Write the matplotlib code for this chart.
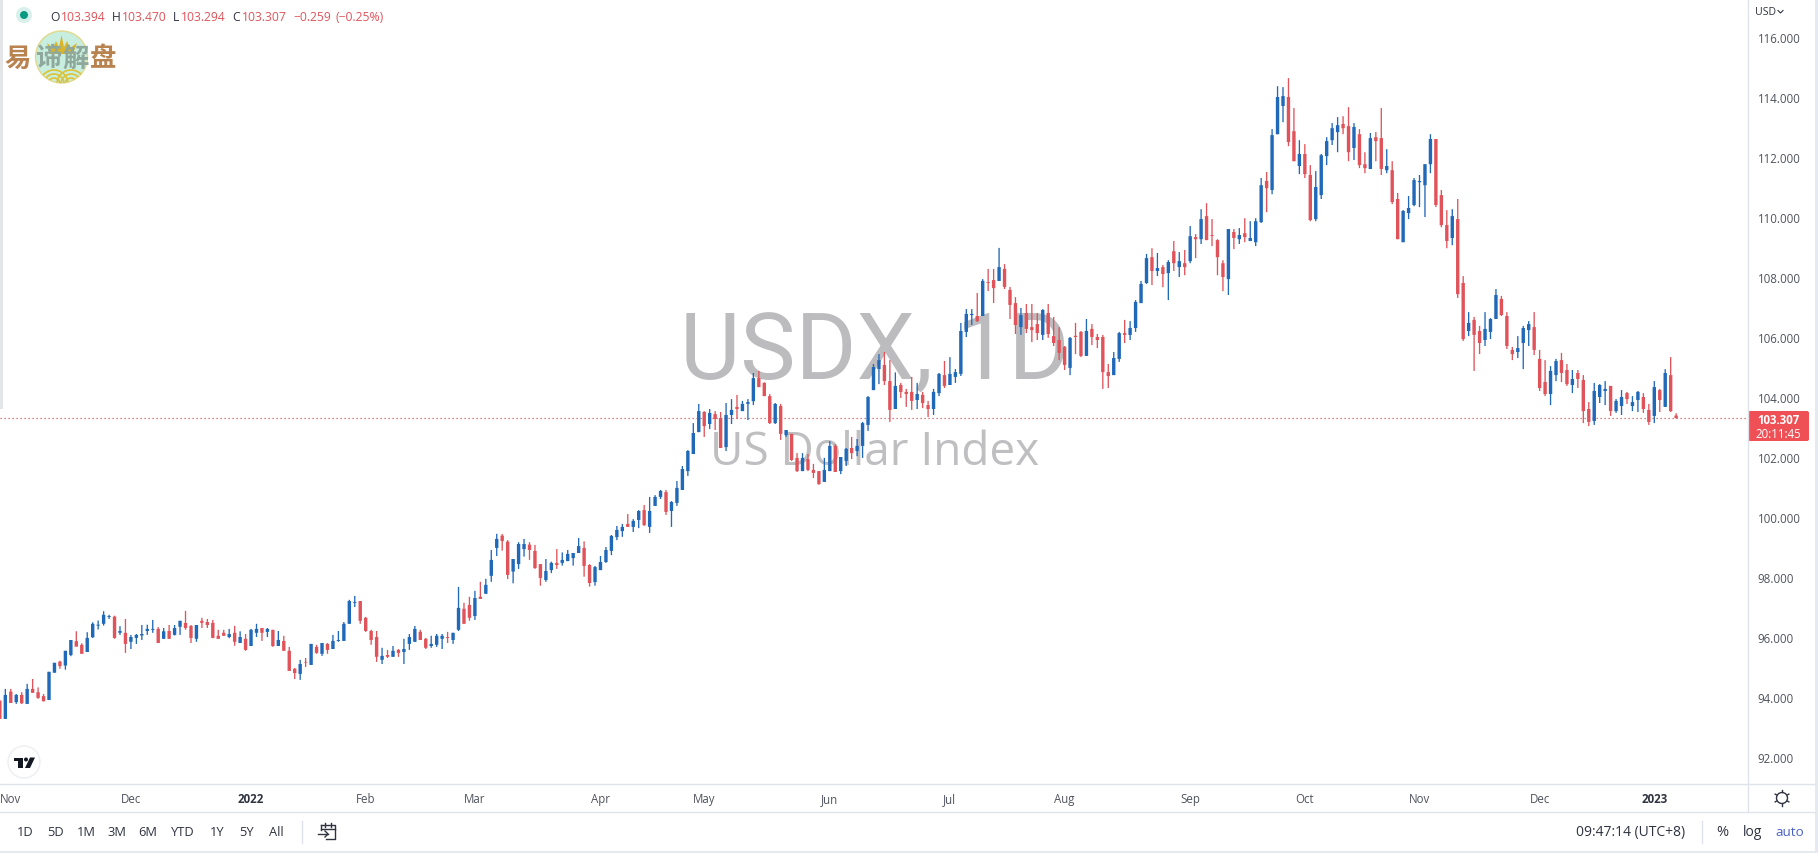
import matplotlib
matplotlib.use('Agg')
import matplotlib.pyplot as plt
from matplotlib.patches import Circle, Rectangle, Arc, Polygon, FancyBboxPatch

plt.rcParams['font.family'] = ['Open Sans', 'DejaVu Sans']

# daily candles, one value per trading day, Nov 2021 to Jan 2023
opens = [93.89,93.28,94.19,93.84,94.08,93.78,94.28,94.17,94.04,93.91,
94.82,95.19,95.06,95.41,95.87,95.75,95.51,96.00,96.39,96.45,
96.68,96.69,96.15,96.15,95.85,95.98,96.06,96.21,96.25,96.28,
95.95,96.21,96.08,96.35,96.48,96.38,95.95,96.55,96.51,96.48,
96.05,96.15,96.01,96.15,95.81,95.95,95.71,96.15,96.31,96.18,
96.25,95.71,95.88,95.55,94.95,94.78,95.18,95.08,95.68,95.45,
95.78,95.61,95.88,95.88,96.45,97.15,97.21,96.65,96.21,96.01,
95.25,95.41,95.35,95.58,95.51,95.78,95.85,96.18,95.95,95.71,
95.75,95.95,96.01,95.91,96.25,96.95,97.08,96.71,97.35,97.45,
98.05,98.98,99.39,99.19,98.19,98.44,98.94,99.09,98.88,98.44,
97.91,98.24,98.48,98.48,98.54,98.64,98.81,98.98,98.41,97.84,
98.24,98.51,98.88,99.34,99.54,99.78,99.68,99.91,100.24,99.68,
100.38,100.68,100.84,100.21,100.48,100.91,101.54,102.11,102.84,103.51,
103.11,103.44,103.31,102.34,103.41,103.68,103.54,103.78,103.87,104.64,
104.48,104.04,103.14,103.71,102.74,102.78,101.98,101.54,101.94,101.58,
101.54,101.18,101.54,102.38,101.54,101.88,102.31,102.21,102.38,103.08,
104.24,104.94,105.08,104.54,103.61,104.41,104.18,104.18,103.91,104.08,
103.74,103.61,104.14,104.74,104.41,104.68,104.78,106.18,106.74,106.71,
106.71,107.84,107.91,107.88,108.28,107.58,107.14,106.34,106.81,106.34,
106.44,106.08,106.81,106.04,105.91,105.68,104.98,106.05,106.18,105.38,
106.28,106.01,106.01,104.84,104.74,105.28,106.14,106.08,106.31,107.14,
107.81,108.67,108.21,108.34,108.14,108.87,108.34,108.47,108.54,109.34,
109.27,110.04,109.41,109.24,108.47,107.94,109.51,109.27,109.47,109.21,
109.17,109.84,111.21,110.91,112.77,113.71,114.01,112.87,111.71,112.11,
111.41,109.94,110.74,112.04,112.57,112.84,113.11,113.04,112.31,112.77,
111.77,111.61,112.67,112.64,111.57,111.57,110.61,109.17,110.14,110.41,
111.17,111.07,111.77,112.61,110.74,109.74,109.31,109.94,107.81,106.21,
106.58,106.21,105.91,106.18,106.61,107.28,106.71,105.58,105.51,105.81,
106.24,106.34,105.28,104.51,104.11,104.74,105.24,104.91,104.41,104.81,
104.58,103.61,103.21,104.01,104.21,104.38,103.54,103.71,104.14,103.71,
103.91,104.01,103.58,103.38,104.24,103.68,104.74,103.394]

highs = [93.89,94.28,94.28,94.11,94.17,94.45,94.61,94.33,94.11,94.85,
95.15,95.22,95.55,95.91,96.20,95.80,96.17,96.50,96.56,96.87,
96.75,96.72,96.37,96.61,96.08,96.11,96.41,96.42,96.58,96.34,
96.31,96.41,96.41,96.55,96.88,96.41,96.41,96.65,96.61,96.58,
96.25,96.25,96.28,96.38,96.20,96.11,96.28,96.45,96.31,96.31,
96.25,96.21,96.05,95.68,94.98,95.25,95.31,95.78,95.75,95.81,
95.81,96.08,96.21,96.51,97.25,97.38,97.21,96.68,96.25,96.21,
95.65,95.58,95.71,95.61,95.95,96.11,96.38,96.25,95.98,96.05,
96.11,96.11,96.18,96.15,97.68,97.15,97.35,97.55,97.85,97.95,
98.91,99.45,99.44,99.24,98.61,99.17,99.28,99.17,99.08,98.44,
98.61,98.52,98.94,98.83,98.91,98.81,99.31,99.20,98.44,98.38,
98.71,99.01,99.41,99.71,99.78,100.11,99.94,100.24,100.41,100.68,
100.74,100.91,100.91,100.54,101.21,101.71,102.24,103.14,103.78,103.54,
103.61,103.54,103.51,103.81,103.94,104.08,103.88,103.94,104.81,104.88,
104.50,104.11,103.81,103.78,102.91,102.78,102.14,102.14,102.11,101.78,
101.54,101.98,102.54,102.44,102.01,102.31,102.68,102.61,103.18,104.04,
105.11,105.44,105.51,105.24,104.83,104.48,104.28,104.68,104.48,104.18,
103.88,104.28,104.81,105.21,105.34,104.94,106.48,106.94,106.94,107.48,
107.94,108.28,108.28,108.98,108.44,107.68,107.34,106.98,107.11,107.11,
106.81,106.94,107.11,106.68,106.34,105.71,106.01,106.48,106.21,106.61,
106.44,106.11,106.08,105.11,105.51,106.18,106.58,106.54,107.24,107.88,
108.78,108.97,108.81,108.41,108.57,109.21,108.84,108.91,109.71,109.44,
110.27,110.47,109.94,109.27,108.57,109.61,109.61,109.64,109.97,109.87,
109.97,111.31,111.51,112.94,114.37,114.34,114.64,113.64,112.57,112.44,
111.74,111.54,112.11,112.67,113.14,113.34,113.37,113.67,113.14,112.94,
112.17,112.81,112.84,113.64,112.27,111.87,110.81,110.24,110.71,111.31,
111.41,111.77,112.77,112.61,110.91,110.24,110.27,110.61,108.04,106.84,
106.68,106.38,106.84,106.64,107.61,107.38,106.84,105.68,106.04,106.38,
106.54,106.84,105.58,105.24,105.04,105.28,105.48,105.11,104.91,104.91,
104.74,103.84,104.48,104.44,104.54,104.38,103.94,104.24,104.18,104.04,
104.21,104.14,103.78,104.54,104.28,104.94,105.34,103.47]

lows = [93.28,93.28,93.81,93.78,93.78,93.78,94.15,93.95,93.86,93.91,
94.82,94.95,94.92,95.37,95.69,95.45,95.51,95.98,96.26,96.39,
96.61,95.95,96.08,95.48,95.61,95.78,95.91,96.08,96.15,95.81,
95.95,95.95,96.06,96.08,96.25,95.81,95.85,96.31,96.31,95.97,
95.95,96.05,95.97,95.72,95.81,95.55,95.71,96.01,95.88,96.01,
95.68,95.71,95.55,94.88,94.61,94.58,95.01,95.08,95.45,95.38,
95.45,95.61,95.85,95.88,96.45,97.01,96.45,96.18,95.75,95.18,
95.11,95.31,95.35,95.35,95.11,95.58,95.85,95.91,95.61,95.65,
95.68,95.61,95.81,95.78,96.21,96.45,96.55,96.58,97.28,97.45,
97.85,98.71,98.89,97.94,97.80,98.28,98.69,98.58,98.28,97.72,
97.85,98.14,98.28,98.39,98.54,98.39,98.81,98.02,97.69,97.72,
98.24,98.48,98.74,99.24,99.35,99.68,99.51,99.64,99.71,99.48,
100.38,100.61,100.08,99.68,100.38,100.91,101.38,102.11,102.84,102.68,
102.94,102.91,102.31,102.21,103.11,103.28,103.54,103.24,103.74,104.34,
104.04,103.11,103.11,102.58,102.68,101.88,101.51,101.54,101.54,101.31,
101.08,101.18,101.54,101.51,101.44,101.71,101.94,102.04,101.98,102.88,
104.24,104.44,104.41,103.18,103.61,103.98,103.68,103.58,103.61,103.64,
103.34,103.41,104.04,104.31,104.41,104.48,104.71,106.01,106.41,106.51,
106.71,107.54,107.14,107.88,107.61,106.61,106.11,106.08,106.14,105.84,
105.91,105.91,105.98,105.71,105.24,104.91,104.74,105.44,105.34,105.38,
105.74,105.64,104.28,104.31,104.74,105.18,105.81,105.91,106.18,107.14,
107.78,107.74,108.04,107.67,107.24,108.21,108.01,108.07,108.47,108.64,
109.11,109.24,109.04,108.07,107.54,107.41,108.94,109.11,109.17,109.21,
109.04,109.81,110.17,110.77,112.77,113.17,112.37,111.87,111.44,111.31,
109.87,109.87,110.61,111.74,112.41,112.17,112.77,111.87,111.91,111.64,
111.47,111.61,111.87,111.41,111.47,110.44,109.27,109.17,109.94,110.37,
110.34,110.01,111.47,110.34,109.67,108.97,109.07,107.31,105.88,106.04,
104.88,105.44,105.71,105.94,106.61,106.71,105.61,105.24,105.31,104.94,
105.71,105.41,104.21,104.04,103.74,104.54,104.51,104.38,104.14,104.31,
103.14,103.04,103.08,103.81,103.74,103.38,103.48,103.41,103.78,103.54,
103.51,103.48,103.08,103.14,103.51,103.68,103.51,103.294]

closes = [93.28,94.08,93.81,94.08,93.80,94.28,94.15,93.98,93.87,94.85,
95.15,95.04,95.55,95.91,95.69,95.45,95.98,96.45,96.42,96.75,
96.71,95.98,96.21,95.78,96.01,96.08,96.11,96.28,96.28,95.81,
96.20,95.95,96.31,96.55,96.31,95.98,96.41,96.48,96.41,95.98,
95.95,96.05,96.11,95.85,96.01,95.58,96.25,96.28,96.15,96.28,
95.71,95.91,95.55,94.88,94.81,95.11,95.16,95.78,95.48,95.81,
95.58,95.88,95.91,96.45,97.21,97.18,96.55,96.21,95.91,95.35,
95.38,95.35,95.55,95.48,95.61,96.01,96.28,95.91,95.65,95.78,
96.05,96.05,95.98,96.15,96.98,96.45,96.65,97.31,97.28,97.75,
98.58,99.28,99.21,98.08,98.61,99.11,99.11,98.91,98.31,97.98,
98.21,98.48,98.41,98.58,98.78,98.81,99.04,98.38,97.81,98.34,
98.51,98.91,99.38,99.58,99.68,99.68,99.88,100.21,99.74,100.21,
100.68,100.88,100.18,100.51,100.98,101.61,102.21,102.81,103.54,103.04,
103.48,103.28,102.31,103.41,103.58,103.61,103.78,103.84,104.64,104.34,
104.04,103.14,103.78,102.78,102.91,101.91,101.54,101.98,101.58,101.48,
101.11,101.58,102.38,101.51,102.01,102.28,102.14,102.38,103.14,104.01,
105.01,105.24,104.54,103.58,104.38,104.18,104.11,103.88,104.11,103.81,
103.61,104.18,104.78,104.38,104.78,104.84,106.21,106.78,106.78,106.54,
107.88,107.81,107.64,108.34,107.68,107.08,106.41,106.74,106.28,106.24,
106.14,106.91,106.11,105.81,105.48,105.08,105.98,106.01,105.38,106.21,
106.01,105.91,104.84,104.71,105.31,106.14,106.08,106.31,107.18,107.78,
108.64,108.21,108.31,108.11,108.51,108.47,108.54,108.34,109.37,109.27,
109.94,109.24,109.38,108.67,108.01,109.61,109.31,109.41,109.34,109.31,
109.87,111.07,110.97,112.74,114.01,114.04,112.51,111.87,112.11,111.44,
109.91,111.01,112.07,112.54,112.97,113.07,112.97,112.17,113.01,111.74,
111.64,112.64,112.54,111.61,111.71,110.51,109.27,110.21,110.31,111.24,
111.21,111.77,112.61,110.41,109.74,109.21,110.04,107.44,105.94,106.48,
106.08,105.81,106.28,106.61,107.41,106.74,105.71,105.44,105.64,106.31,
106.44,105.58,104.31,104.11,104.88,105.21,104.81,104.44,104.61,104.61,
103.54,103.18,104.21,104.41,104.28,103.54,103.88,104.01,103.94,103.84,
104.18,103.61,103.18,104.34,103.91,104.81,103.54,103.307]

price_ticks = [92, 94, 96, 98, 100, 102, 104, 106, 108, 110, 112, 114, 116]
time_ticks = [2, 24, 46, 67, 87, 110, 129, 152, 174, 195, 218, 239, 260, 282, 303]
time_labels = ['Nov', 'Dec', '2022', 'Feb', 'Mar', 'Apr', 'May', 'Jun', 'Jul', 'Aug', 'Sep', 'Oct', 'Nov', 'Dec', '2023']
last_price = 103.307

range_buttons = ['1D', '5D', '1M', '3M', '6M', 'YTD', '1Y', '5Y', 'All']
range_x = [25, 55, 86, 117, 148, 183, 217, 247, 276]

up_col = '#2068b8'
down_col = '#e0535a'
grid_col = '#e0e3eb'
text_col = '#50535e'

W, H = 1818, 854
fig = plt.figure(figsize=(W / 100, H / 100), dpi=100, facecolor='white')

ax = fig.add_axes([0, (H - 785) / H, 1747.5 / W, 785 / H])
ax.set_xlim(0.024, 320.07)
ax.set_ylim(91.11, 117.277)
for s in ax.spines.values():
    s.set_visible(False)

days = list(range(len(opens)))
colors = [up_col if c >= o else down_col for o, c in zip(opens, closes)]
wicks = ax.vlines(days, lows, highs, colors=colors, linewidth=0.95, zorder=3)
wicks.set_snap(False)
bodies = ax.bar(days, [abs(c - o) for o, c in zip(opens, closes)], bottom=[min(o, c) for o, c in zip(opens, closes)],
                width=0.62, color=colors, linewidth=0, zorder=4)
for b in bodies:
    b.set_snap(False)
ax.axhline(last_price, color=down_col, linewidth=0.9, linestyle=(0, (1, 2.2)), zorder=2)

ax.yaxis.tick_right()
ax.set_yticks(price_ticks)
ax.set_yticklabels(['%.3f' % p for p in price_ticks])
ax.tick_params(axis='y', length=0, pad=7.2, labelsize=8.3, labelcolor=text_col)
ax.set_xticks(time_ticks)
ax.set_xticklabels(time_labels)
ax.tick_params(axis='x', length=0, pad=5.5, labelsize=8.3, labelcolor=text_col)
for t in ax.get_xticklabels():
    if t.get_text().startswith('20'):
        t.set_fontweight('bold')
        t.set_color('#303340')

# everything around the chart is laid out in screen pixels
ui = fig.add_axes([0, 0, 1, 1], facecolor='none')
ui.set_xlim(0, W)
ui.set_ylim(H, 0)
ui.axis('off')

# watermark goes under the candles
ax.text(875, 380, 'USDX, 1D', transform=ui.transData, ha='center', va='baseline', fontsize=67, color='#bcbcbe', zorder=1,
        clip_on=False, family=['Roboto', 'DejaVu Sans'])
ax.text(875, 465, 'US Dollar Index', transform=ui.transData, ha='center', va='baseline', fontsize=33, color='#bfbfc1', zorder=1, clip_on=False)

# frame lines
ui.plot([0, 1815], [785, 785], color=grid_col, lw=1)
ui.plot([0, 1815], [813, 813], color=grid_col, lw=1)
ui.plot([1747.5, 1747.5], [0, 813], color=grid_col, lw=1)
ui.add_patch(Rectangle((1815, 0), 3, H, color='#e6e9ef', lw=0))
ui.add_patch(Rectangle((0, 851.5), W, 3, color='#e6e9ef', lw=0))
ui.add_patch(Rectangle((0, 0), 2.5, 410, color='#e4e5e7', lw=0))

# price label
ui.add_patch(FancyBboxPatch((1749, 413), 59, 28, boxstyle='round,pad=1,rounding_size=2', color='#ee5055', lw=0))
ui.text(1778.5, 421, '%.3f' % last_price, ha='center', va='center', fontsize=8.3, color='white', fontweight='bold')
ui.text(1778.5, 435, '20:11:45', ha='center', va='center', fontsize=8.3, color='white')
ui.text(1755, 12.5, 'USD', ha='left', va='center', fontsize=7.6, color='#303340')
ui.plot([1778, 1780.5, 1783], [11.5, 14, 11.5], color='#303340', lw=0.8)

# OHLC header
ui.add_patch(Circle((24, 16), 8, color='#d8f0ec', lw=0))
ui.add_patch(Circle((24, 16), 4, color='#089981', lw=0))
header = [('O', 50, '#303340'), ('103.394', 61, down_col), ('H', 112, '#303340'), ('103.470', 122, down_col),
          ('L', 173, '#303340'), ('103.294', 181, down_col), ('C', 232, '#303340'), ('103.307', 242, down_col),
          ('\u22120.259', 293, down_col), ('(\u22120.25%)', 336, down_col)]
for s, x, c in header:
    ui.text(x, 17.5, s, ha='left', va='center', fontsize=8.7, color=c)

# logo
disc = Circle((61.5, 58), 26, facecolor='#c8eee0', edgecolor='#e3d98a', lw=1)
ui.add_patch(disc)
ui.add_patch(Polygon([[47, 44], [50, 55], [73, 55], [77, 44], [70, 49], [67, 42], [64, 48], [61.5, 36], [59, 48], [56, 42], [53, 49]],
                     closed=True, color='#d9b52c', lw=0))
for r in [6, 10, 14]:
    for cx in (54, 71):
        a = Arc((cx, 85), r * 2, r * 2, theta1=180, theta2=360, color='#dcc235', lw=1.2)
        ui.add_patch(a)
        a.set_clip_path(disc)
for s, x, c in [('易', 18, '#b98350'), ('谛', 48, '#8fa89c'), ('解', 76, '#8fa89c'), ('盘', 103.5, '#b98350')]:
    ui.text(x, 59, s, ha='center', va='center', fontsize=19, color=c, fontweight='bold', family=['Noto Sans CJK SC', 'DejaVu Sans'])

# TV badge
ui.add_patch(Circle((24, 763), 16, facecolor='white', edgecolor='#eceef2', lw=1))
ui.add_patch(Rectangle((14, 758.5), 9, 3.5, color='#131722', lw=0))
ui.add_patch(Rectangle((18, 758.5), 4.5, 10.5, color='#131722', lw=0))
ui.add_patch(Circle((26, 760.5), 2, color='#131722', lw=0))
ui.add_patch(Polygon([[30, 758.5], [35, 758.5], [30, 769], [25, 769]], closed=True, color='#131722', lw=0))

# bottom toolbar
for s, x in zip(range_buttons, range_x):
    ui.text(x, 833, s, ha='center', va='center', fontsize=9.3, color='#303340')
ui.plot([302, 302], [822, 844], color=grid_col, lw=1)
ui.plot([321, 321], [826, 831], color='#303340', lw=1)
ui.plot([321, 335, 335, 326], [826, 826, 840, 840], color='#303340', lw=1)
ui.plot([321, 335], [830, 830], color='#303340', lw=1)
ui.plot([325, 325], [824, 828], color='#303340', lw=1)
ui.plot([331, 331], [824, 828], color='#303340', lw=1)
ui.plot([318, 328], [835, 835], color='#303340', lw=1)
ui.plot([325, 328, 325], [832, 835, 838], color='#303340', lw=1)

ui.text(1631, 833, '09:47:14 (UTC+8)', ha='center', va='center', fontsize=10, color='#303340')
ui.plot([1702, 1702], [822, 844], color=grid_col, lw=1)
ui.text(1722, 833, '%', ha='center', va='center', fontsize=10.5, color='#303340')
ui.text(1753, 833, 'log', ha='center', va='center', fontsize=10, color='#303340')
ui.text(1790, 833, 'auto', ha='center', va='center', fontsize=9.7, color='#4a62c8')

# settings gear
ui.add_patch(Circle((1782, 799), 5.5, facecolor='none', edgecolor='#303340', lw=1))
for dx, dy in [(0, -7.5), (0, 7.5), (-6.5, -3.7), (6.5, -3.7), (-6.5, 3.7), (6.5, 3.7)]:
    ui.plot([1782 + dx * 0.85, 1782 + dx * 1.05], [799 + dy * 0.85, 799 + dy * 1.05], color='#303340', lw=1)

fig.savefig('out.png', dpi=100)
